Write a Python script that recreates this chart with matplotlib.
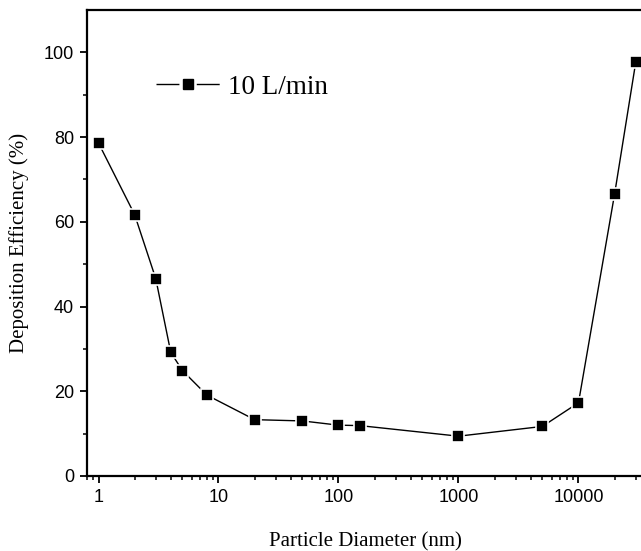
import matplotlib
matplotlib.use("Agg")
import matplotlib.pyplot as plt
from matplotlib.lines import Line2D
from matplotlib.ticker import LogLocator, FixedLocator, NullFormatter, FixedFormatter
import numpy as np

diameter_nm = [1, 2, 3, 4, 5, 8, 20, 50, 100, 150, 1000, 5000, 10000, 20000, 30000]
efficiency = [78.6, 61.7, 46.6, 29.2, 24.9, 19.1, 13.3, 13.0, 12.0, 11.9, 9.4, 11.7, 17.3, 66.6, 97.7]
series_label = "10 L/min"
x_ticks = [1, 10, 100, 1000, 10000]
x_tick_labels = ["1", "10", "100", "1000", "10000"]
y_ticks = [0, 20, 40, 60, 80, 100]

W, H = 641, 551
fig = plt.figure(figsize=(W / 100, H / 100), dpi=100)
left_px, right_px, top_px, bottom_px = 86.7, 645, 10, 476
ax = fig.add_axes([left_px / W, (H - bottom_px) / H, (right_px - left_px) / W, (bottom_px - top_px) / H])

ax.plot(diameter_nm, efficiency, color="black", lw=1.0, marker="s", ms=8.0,
        mfc="black", mec="white", mew=1.2)
ax.set_xscale("log")
ax.set_xlim(10 ** ((left_px - 98.5) / 120), 10 ** ((right_px - 98.5) / 120))
ax.set_ylim(0, 110)

ax.xaxis.set_major_locator(FixedLocator(x_ticks))
ax.xaxis.set_major_formatter(FixedFormatter(x_tick_labels))
ax.xaxis.set_minor_locator(LogLocator(base=10, subs=np.arange(2, 10)))
ax.xaxis.set_minor_formatter(NullFormatter())
ax.set_yticks(y_ticks)
ax.set_yticks(np.arange(10, 110, 20), minor=True)

for s in ax.spines.values():
    s.set_linewidth(1.6)
ax.spines["right"].set_visible(False)

ax.tick_params(which="major", direction="out", length=5, width=1.3, labelsize=13, pad=4)
ax.tick_params(which="minor", direction="out", length=3, width=1.1)
for lab in ax.get_xticklabels() + ax.get_yticklabels():
    lab.set_family("Liberation Sans")

ax.set_xlabel("Particle Diameter (nm)", family="Liberation Serif", fontsize=15, labelpad=19)
ax.set_ylabel("Deposition Efficiency (%)", family="Liberation Serif", fontsize=15, labelpad=10.5)

handle = Line2D([], [], color="black", lw=1.0, ls=(0, (16.5, 12.5, 16.5, 60)),
                marker="s", ms=7.2, mfc="black", mec="black")
lx = (156 - left_px) / (right_px - left_px)
ly = (bottom_px - 87) / (bottom_px - top_px)
ax.legend([handle], [series_label], loc="center left", bbox_to_anchor=(lx, ly),
          frameon=False, borderpad=0, borderaxespad=0,
          prop={"family": "Liberation Serif", "size": 19.5}, handlelength=2.37,
          handletextpad=0.3)

fig.savefig("out.png", dpi=100)
